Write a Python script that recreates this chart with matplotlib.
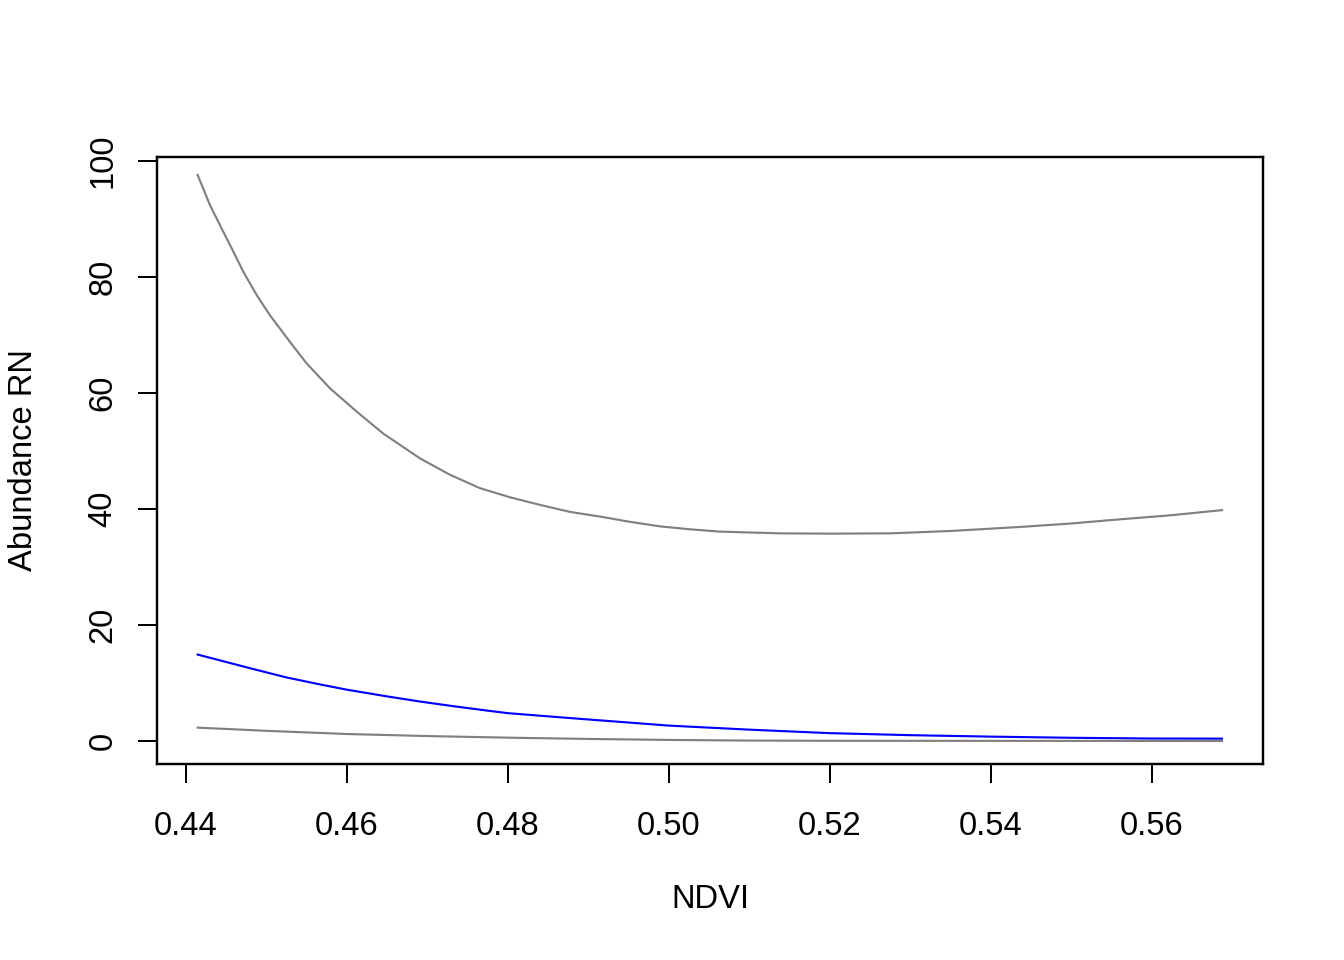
import matplotlib
matplotlib.use("Agg")
import matplotlib.pyplot as plt

plt.rcParams['font.family'] = ['Liberation Sans', 'DejaVu Sans']

# Upper confidence bound (grey)
upper_x = [0.44145, 0.44298, 0.44463, 0.44588, 0.44712, 0.44878, 0.45043, 0.45292,
           0.45499, 0.45789, 0.46120, 0.46451, 0.4691, 0.4728, 0.4765, 0.4803,
           0.4840, 0.4877, 0.4914, 0.4951, 0.4989, 0.5026, 0.5063, 0.5138,
           0.5200, 0.5275, 0.5349, 0.5436, 0.5500, 0.5550, 0.5622, 0.5687]
upper_y = [97.6, 92.4, 87.8, 84.4, 80.9, 76.9, 73.4, 68.8,
           65.1, 60.8, 56.8, 53.0, 48.7, 45.9, 43.6, 42.0,
           40.7, 39.5, 38.7, 37.8, 37.0, 36.5, 36.1, 35.8,
           35.75, 35.8, 36.2, 36.9, 37.5, 38.1, 38.9, 39.8]

# Predicted abundance (blue)
pred_x = [0.44145, 0.44422, 0.44836, 0.45251, 0.45665, 0.45996, 0.46493, 0.46907,
          0.47320, 0.47735, 0.47996, 0.4877, 0.5000, 0.5100, 0.5200, 0.5300,
          0.5400, 0.5500, 0.5600, 0.5687]
pred_y = [14.9, 13.9, 12.4, 10.95, 9.75, 8.85, 7.7, 6.8,
          6.0, 5.25, 4.8, 3.95, 2.65, 1.95, 1.35, 1.0,
          0.75, 0.55, 0.42, 0.4]

# Lower confidence bound (grey)
lower_x = [0.44145, 0.4500, 0.4600, 0.4700, 0.4800, 0.4900, 0.5000, 0.5100,
           0.5200, 0.5687]
lower_y = [2.3, 1.75, 1.2, 0.85, 0.57, 0.35, 0.18, 0.07, 0.03, 0.0]

xticks = [0.44, 0.46, 0.48, 0.50, 0.52, 0.54, 0.56]
xtick_labels = ["0.44", "0.46", "0.48", "0.50", "0.52", "0.54", "0.56"]
yticks = [0, 20, 40, 60, 80, 100]
ytick_labels = ["0", "20", "40", "60", "80", "100"]

W, H = 1344, 960
fig = plt.figure(figsize=(7, 5), dpi=192)
L, R, T, B = 157, 1263, 157, 764
ax = fig.add_axes([L / W, 1 - B / H, (R - L) / W, (B - T) / H])

ax.plot(upper_x, upper_y, color='#808080', lw=0.8)
ax.plot(pred_x, pred_y, color='#0000FF', lw=0.8)
ax.plot(lower_x, lower_y, color='#808080', lw=0.8)

ax.set_xlim(0.4364, 0.5738)
ax.set_ylim(-3.97, 100.69)

ax.set_xticks(xticks)
ax.set_xticklabels(xtick_labels)
ax.set_yticks(yticks)
ax.set_yticklabels(ytick_labels, rotation=90, va='center')

ax.tick_params(axis='both', direction='out', length=7.2, width=0.75,
               labelsize=12.3, color='black')
ax.tick_params(axis='x', pad=10.3)
ax.tick_params(axis='y', pad=7.2)
for s in ax.spines.values():
    s.set_linewidth(0.9)
    s.set_color('black')

fig.text(((L + R) / 2) / W, 1 - 900 / H, "NDVI", ha='center', va='center', fontsize=12.3)
fig.text(24 / W, 1 - 460 / H, "Abundance RN", ha='center', va='center',
         rotation=90, fontsize=12.3)

fig.savefig("out.png", dpi=192)
